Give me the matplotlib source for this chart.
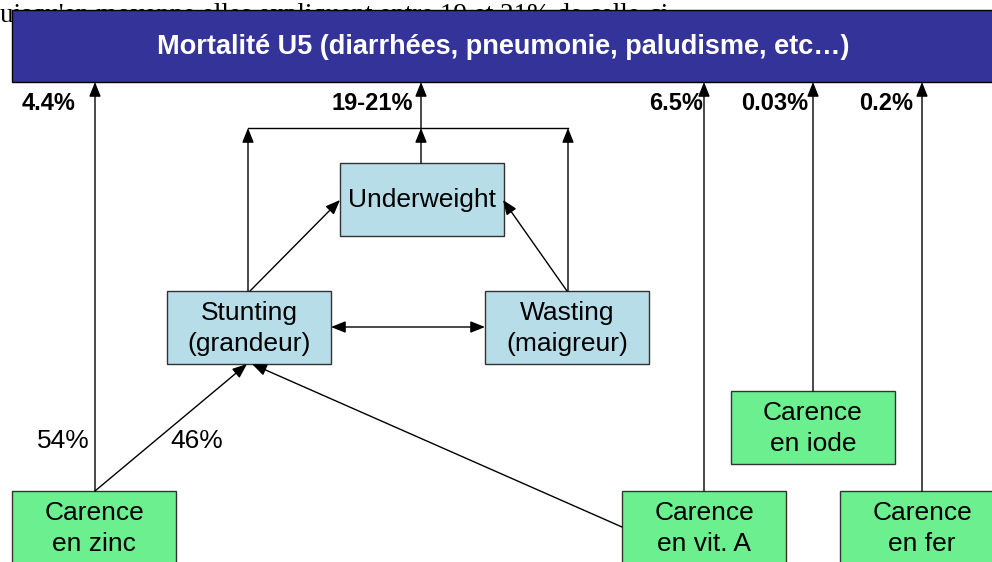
import matplotlib.pyplot as plt
from matplotlib.patches import Rectangle

# textes du schéma
top_text = "uisqu'en moyenne elles expliquent entre 19 et 21% de celle-ci"
titre = "Mortalité U5 (diarrhées, pneumonie, paludisme, etc…)"
etats = ["Underweight", "Stunting\n(grandeur)", "Wasting\n(maigreur)"]
carences = ["Carence\nen zinc", "Carence\nen vit. A", "Carence\nen iode", "Carence\nen fer"]
mortalite = ["4.4%", "19-21%", "6.5%", "0.03%", "0.2%"]
zinc_part = ["54%", "46%"]

# mise en page (pixels)
bleu_f = "#333399"
bleu_c = "#b7dde8"
vert = "#6cef8f"
box_w, box_h = 164, 73
pos_etats = [(340, 163), (167, 291), (485, 291)]
pos_carences = [(12, 491), (622, 491), (731, 391), (840, 491)]
lab_x = [22, 413, 703, 808, 913]
lab_ha = ["left", "right", "right", "right", "right"]

plt.rcParams['font.family'] = ['Liberation Sans', 'DejaVu Sans']
fig = plt.figure(figsize=(9.92, 5.62), dpi=100)
ax = fig.add_axes([0, 0, 1, 1])
ax.set_xlim(0, 992)
ax.set_ylim(562, 0)
ax.axis('off')


def fleche(a, b, style='-|>,head_length=0.55,head_width=0.22'):
    ax.annotate('', xy=b, xytext=a,
                arrowprops=dict(arrowstyle=style, color='black', lw=1,
                                mutation_scale=16, shrinkA=0, shrinkB=0))


def boite(x, y, txt, fc, h=box_h, w=box_w):
    ax.add_patch(Rectangle((x, y), w, h, fc=fc, ec='#333333', lw=1, zorder=2))
    ax.text(x + w / 2, y + box_h / 2 + 1, txt, ha='center', va='center',
            fontsize=19, linespacing=1.35, zorder=3)


# texte coupé en haut
ax.text(0, 22, top_text, family=['Liberation Serif'], fontsize=19.5,
        ha='left', va='baseline', zorder=0)

# bandeau
ax.add_patch(Rectangle((12, 10), 990, 72, fc=bleu_f, ec='black', lw=1, zorder=2))
ax.text(503, 47, titre, color='white', fontsize=19.5, fontweight='bold',
        ha='center', va='center', zorder=3)

# boîtes
for (x, y), t in zip(pos_etats, etats):
    boite(x, y, t, bleu_c)
for (x, y), t in zip(pos_carences, carences):
    h = box_h if y < 450 else 90
    boite(x, y, t, vert, h=h)

# flèches vers la mortalité
fleche((95, 491), (95, 82))
fleche((421, 128), (421, 82))
fleche((704, 491), (704, 82))
fleche((813, 391), (813, 82))
fleche((922, 491), (922, 82))

for x, ha, t in zip(lab_x, lab_ha, mortalite):
    ax.text(x, 104, t, ha=ha, va='center', fontsize=17, fontweight='bold')

# liaisons entre états
ax.plot([248, 568], [128, 128], color='black', lw=1)
fleche((248, 291), (248, 128))
fleche((568, 291), (568, 128))
fleche((421, 163), (421, 128))
fleche((250, 291), (340, 200))
fleche((567, 291), (503, 200))
fleche((331, 327), (485, 327),
       style='<|-|>,head_length=0.55,head_width=0.22')

# carences vers stunting
fleche((95, 491), (247, 364))
fleche((622, 527), (252, 364))
ax.text(90, 441, zinc_part[0], ha='right', va='center', fontsize=19)
ax.text(170, 441, zinc_part[1], ha='left', va='center', fontsize=19)

fig.savefig("out.png", dpi=100)
